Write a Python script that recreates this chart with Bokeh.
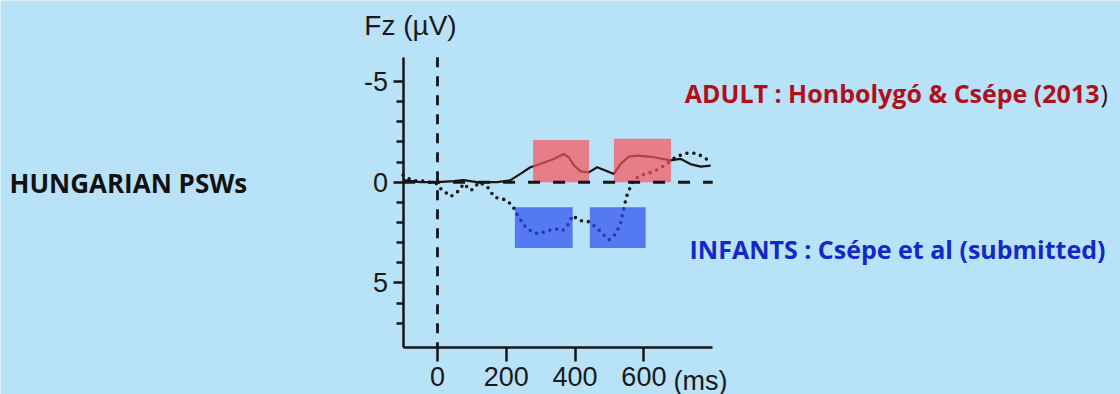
from bokeh.plotting import figure
from bokeh.models import Range1d, LinearAxis, FixedTicker, Label
from bokeh.embed import file_html
from bokeh.resources import INLINE

# ---------------- data ----------------
adult_ms = [-100, -49, 0, 47, 76, 115, 174, 212, 241, 270, 299, 338, 367, 382, 397, 416,
            440, 464, 488, 513, 532, 556, 581, 629, 677, 706, 735, 765, 794]
adult_uv = [-0.1, 0.0, 0.0, -0.05, -0.1, 0.0, 0.0, -0.1, -0.41, -0.74, -0.9, -1.15, -1.4, -1.24, -0.82, -0.54,
            -0.49, -0.74, -0.58, -0.41, -0.9, -1.27, -1.32, -1.24, -1.08, -1.16, -0.9, -0.77, -0.82]

infant_ms = [-100, -80, -60, -49, 0, 10, 39, 63, 76, 98, 122, 146, 165, 199, 218, 233, 252, 276, 296,
             320, 344, 364, 378, 393, 412, 437, 461, 485, 499, 518, 533, 542, 552, 567, 586, 615,
             644, 673, 692, 722, 751, 775, 787]
infant_uv = [-0.35, -0.15, -0.05, -0.07, 0.08, 0.33, 0.71, 0.41, 0.08, 0.41, 0.0, 0.25, 0.74, 0.88, 1.16,
             1.65, 2.15, 2.48, 2.57, 2.4, 2.32, 2.4, 2.15, 1.65, 1.9, 1.94, 2.23, 2.65, 2.86, 2.57,
             1.99, 1.25, 0.58, 0.0, -0.33, -0.45, -0.66, -0.99, -1.24, -1.44, -1.44, -1.24, -1.08]

adult_win_start = [278, 513]
adult_win_end = [441, 679]
adult_win_top = [-2.1, -2.15]
adult_win_bottom = [0.0, 0.0]

infant_win_start = [225, 443]
infant_win_end = [393, 605]
infant_win_top = [1.24, 1.24]
infant_win_bottom = [3.27, 3.27]

x_ticks = [0, 200, 400, 600]
y_ticks = [-5, 0, 5]
y_minor_ticks = [-4, -3, -2, -1, 1, 2, 3, 4, 6, 7]

x_min, x_max = -100, 800
y_top, y_bottom = -6.2, 8.2

# ---------------- geometry ----------------
W, H = 1120, 394
XS, XE = -1270.3, 1985.5
YT, YB = -9.017, 10.536


def px_x(X):
    return XS + X / W * (XE - XS)


def px_y(Y):
    return YT + Y / H * (YB - YT)


p = figure(width=W, height=H, output_backend="svg", toolbar_location=None,
           x_range=Range1d(XS, XE), y_range=Range1d(YB, YT),
           x_axis_type=None, y_axis_type=None, min_border=0)
p.min_border_left = p.min_border_right = p.min_border_top = p.min_border_bottom = 0
p.grid.visible = False
p.outline_line_color = None
p.background_fill_color = "#B8E2F7"
p.border_fill_color = "#B8E2F7"

# data lines
p.line(adult_ms, adult_uv, line_color="#151515", line_width=2.2)
p.line(infant_ms, infant_uv, line_color="#151515", line_width=3.6,
       line_dash="0 7", line_cap="round")

# analysis windows (semi-transparent overlays)
p.quad(left=adult_win_start, right=adult_win_end, top=adult_win_top, bottom=adult_win_bottom,
       fill_color="#F85458", fill_alpha=0.7, line_color=None)
p.quad(left=infant_win_start, right=infant_win_end, top=infant_win_top, bottom=infant_win_bottom,
       fill_color="#294DEE", fill_alpha=0.7, line_color=None)

# reference lines
p.line([x_min, x_max], [0, 0], line_color="#151515", line_width=3, line_dash="12 13")
p.line([0, 0], [y_top, y_bottom], line_color="#151515", line_width=2.8, line_dash="10 9")

# axes
yaxis = LinearAxis(fixed_location=x_min, bounds=(y_top, y_bottom),
                   ticker=FixedTicker(ticks=y_ticks, minor_ticks=y_minor_ticks))
yaxis.major_label_overrides = {-5: "-5", 0: "0", 5: "5"}
yaxis.axis_line_width = 2.5
yaxis.axis_line_color = "#151515"
yaxis.major_tick_line_width = 2.5
yaxis.minor_tick_line_width = 2.5
yaxis.major_tick_line_color = "#151515"
yaxis.minor_tick_line_color = "#151515"
yaxis.major_tick_out = 10
yaxis.major_tick_in = 0
yaxis.minor_tick_out = 7
yaxis.minor_tick_in = 0
yaxis.major_label_standoff = 5
yaxis.major_label_text_font = "Liberation Sans"
yaxis.major_label_text_font_size = "27px"
yaxis.major_label_text_color = "#1a1a1a"
p.add_layout(yaxis, "left")

xaxis = LinearAxis(fixed_location=y_bottom, bounds=(x_min, x_max),
                   ticker=FixedTicker(ticks=x_ticks, minor_ticks=[]))
xaxis.axis_line_width = 2.5
xaxis.axis_line_color = "#151515"
xaxis.major_tick_line_width = 2.5
xaxis.major_tick_line_color = "#151515"
xaxis.major_tick_out = 14
xaxis.major_tick_in = 0
xaxis.minor_tick_out = 0
xaxis.major_label_standoff = 6
xaxis.major_label_text_font = "Liberation Sans"
xaxis.major_label_text_font_size = "27px"
xaxis.major_label_text_color = "#1a1a1a"
p.add_layout(xaxis, "below")

# texts (baseline positions compensated for Bokeh's text box placement)
p.add_layout(Label(x=px_x(673), y=px_y(380), text="(ms)", text_font="Liberation Sans",
                   text_font_size="27px", text_color="#1a1a1a", text_baseline="alphabetic"))
p.add_layout(Label(x=px_x(410), y=px_y(25), text="Fz (µV)", text_font="Liberation Sans",
                   text_font_size="28px", text_color="#1a1a1a", text_align="center",
                   text_baseline="alphabetic"))
p.add_layout(Label(x=px_x(1099), y=px_y(92), text="ADULT : Honbolygó & Csépe (2013",
                   text_font="Open Sans", text_font_style="bold", text_font_size="25px",
                   text_color="#B0101C", text_align="right", text_baseline="alphabetic"))
p.add_layout(Label(x=px_x(1100), y=px_y(92), text=")",
                   text_font="Open Sans", text_font_size="25px",
                   text_color="#1a1a1a", text_align="left", text_baseline="alphabetic"))
p.add_layout(Label(x=px_x(1105), y=px_y(248), text="INFANTS : Csépe et al (submitted)",
                   text_font="Open Sans", text_font_style="bold", text_font_size="25px",
                   text_color="#1428C8", text_align="right", text_baseline="alphabetic"))
p.add_layout(Label(x=px_x(9), y=px_y(182), text="HUNGARIAN PSWs",
                   text_font="Open Sans", text_font_style="bold", text_font_size="26px",
                   text_color="#111111", text_align="left", text_baseline="alphabetic"))

open("out.html", "w").write(file_html(p, INLINE))
